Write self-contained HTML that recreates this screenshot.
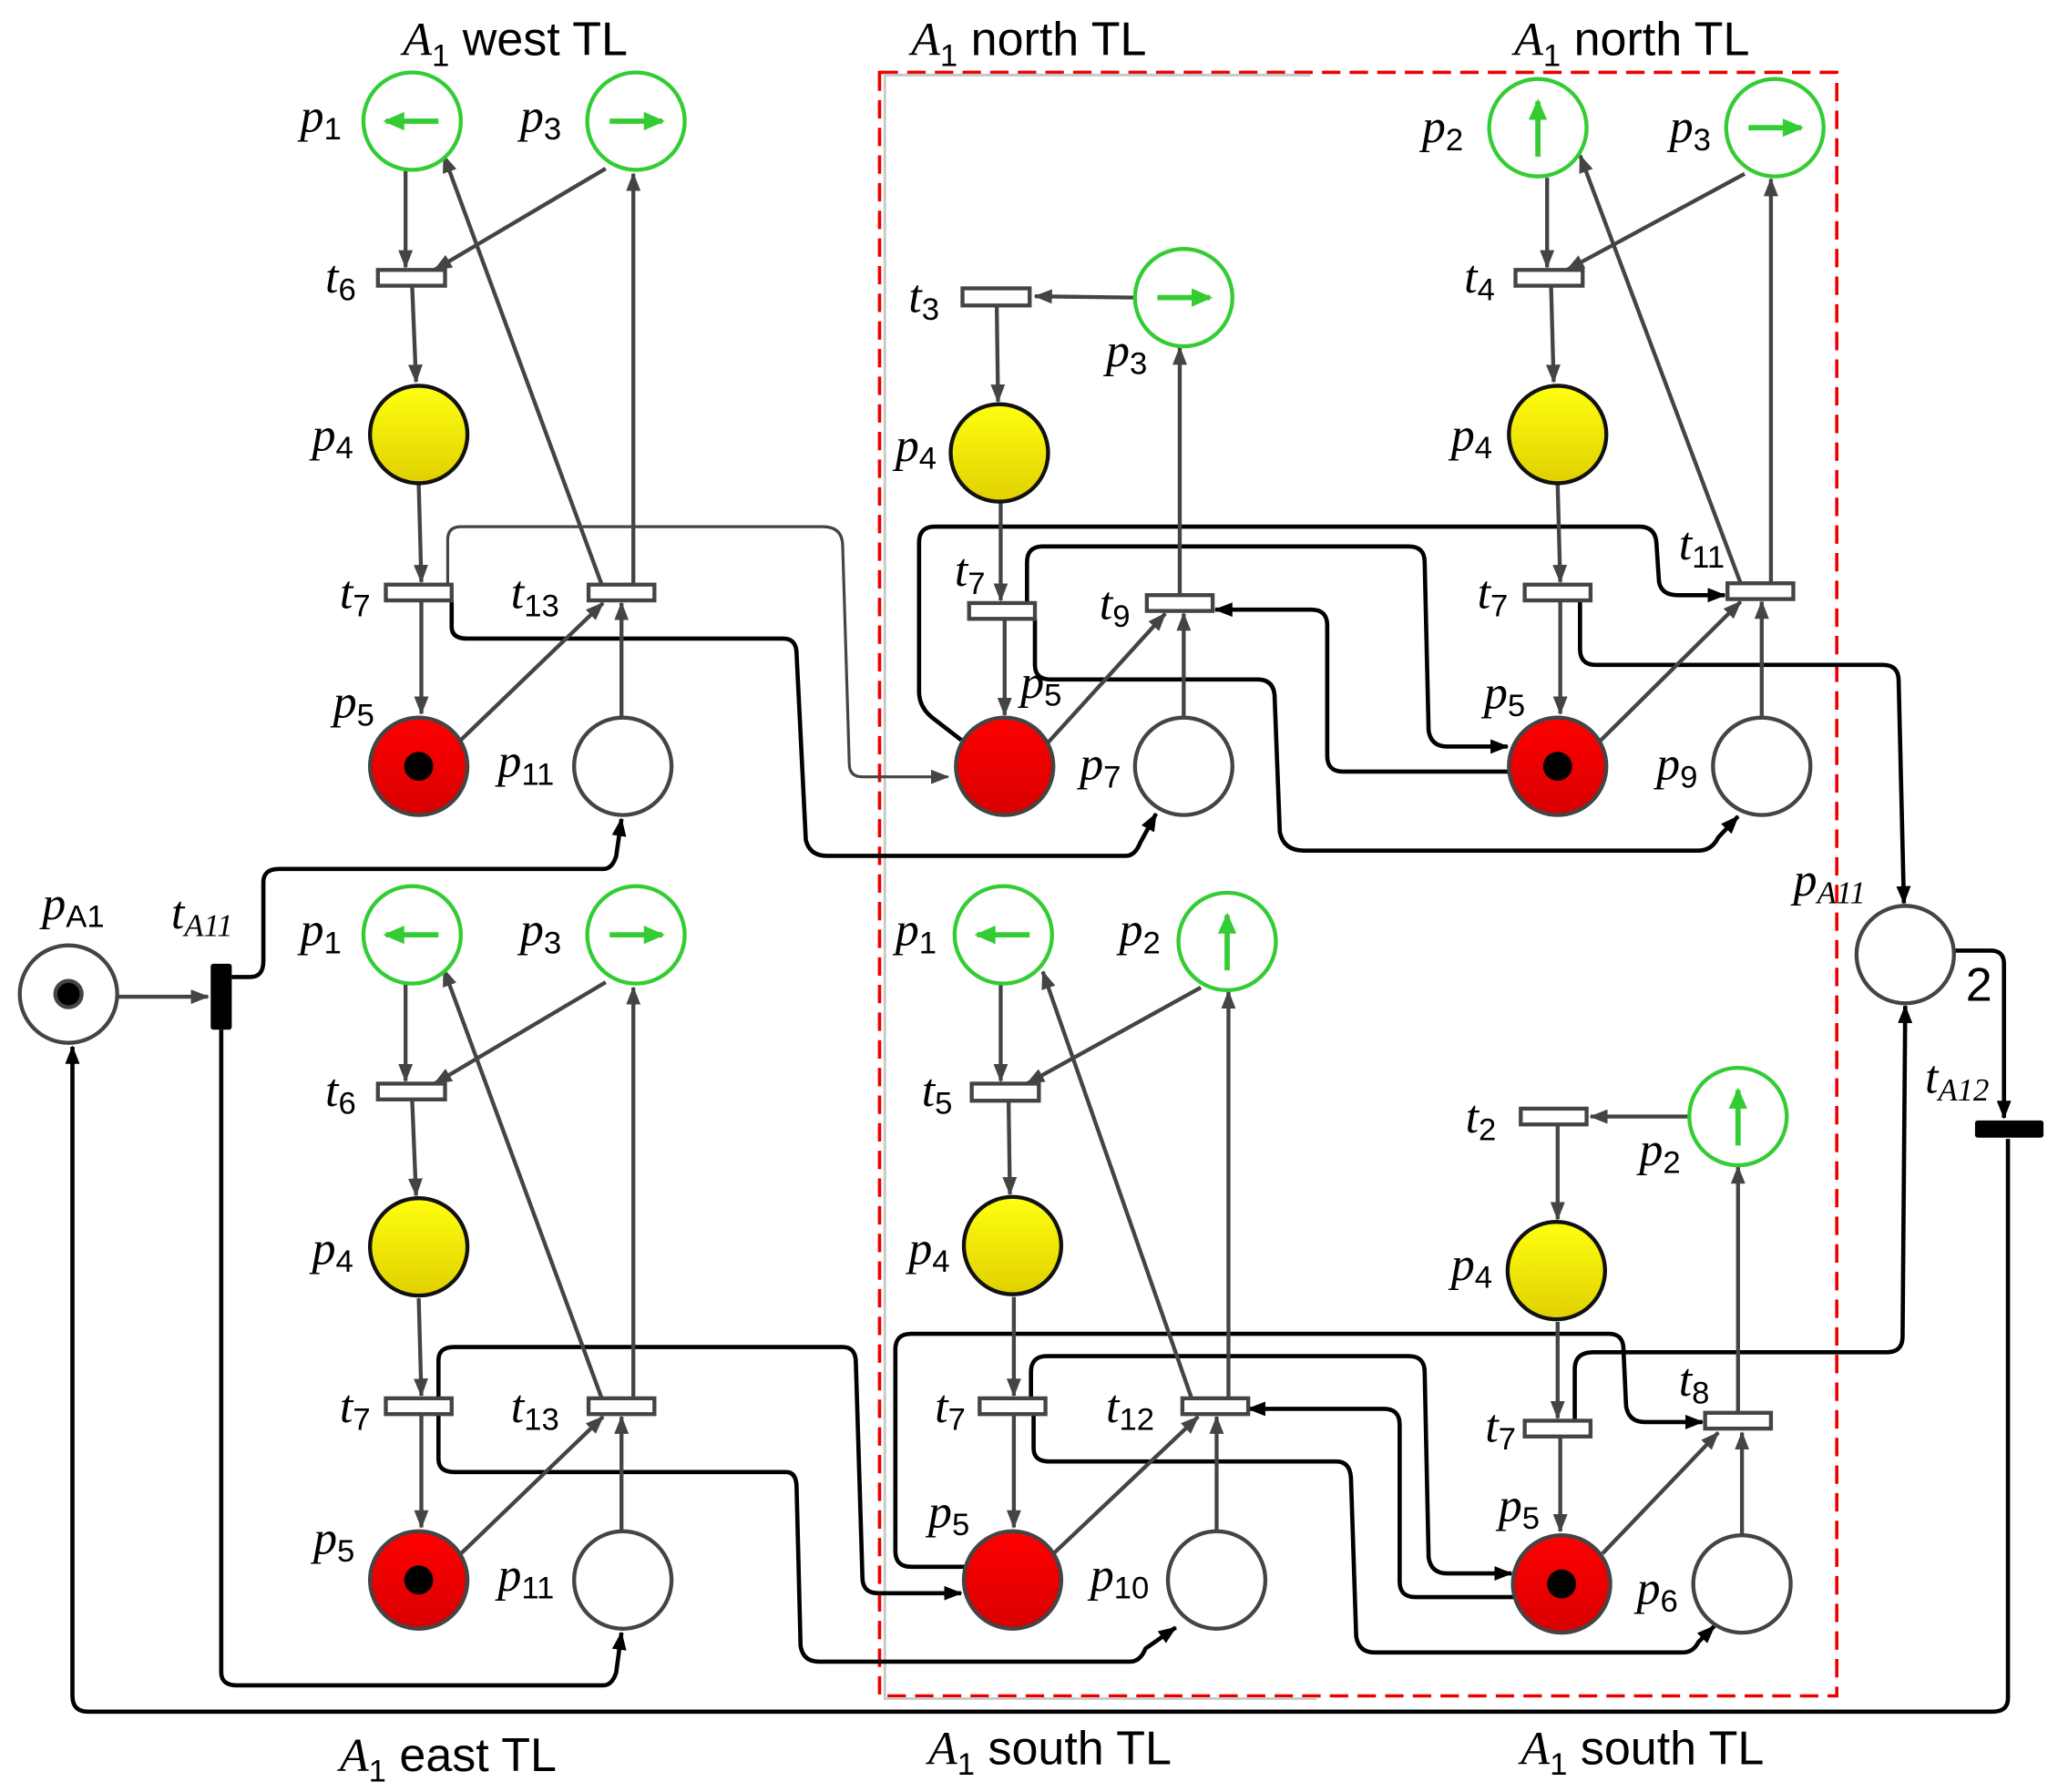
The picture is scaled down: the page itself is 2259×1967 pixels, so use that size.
<!DOCTYPE html>
<html><head><meta charset="utf-8"><style>
html,body{margin:0;padding:0;background:#fff}
svg{display:block}
.l{font-family:"Liberation Serif",serif;font-style:italic;font-size:36px;fill:#000}
.s{font-family:"Liberation Sans",sans-serif;font-style:normal;font-size:24px}
.si{font-family:"Liberation Serif",serif;font-style:italic;font-size:24px}
.h{font-family:"Liberation Sans",sans-serif;font-size:36px;fill:#000}
.a{stroke:#444;stroke-width:3;fill:none;marker-end:url(#ag)}
.b{stroke:#000;stroke-width:3.2;fill:none;marker-end:url(#ab);stroke-linejoin:round}
.gr{stroke:#444;stroke-width:2.2;fill:none;marker-end:url(#ag)}
.g{fill:#fff;stroke:#33cc33;stroke-width:3}
.y{fill:url(#yg);stroke:#111;stroke-width:3}
.r{fill:url(#rg);stroke:#444;stroke-width:3}
.w{fill:#fff;stroke:#444;stroke-width:3}
.t{fill:#fff;stroke:#444;stroke-width:3}
</style></head><body>
<svg width="2259" height="1967" viewBox="0 0 1563 1361" xmlns="http://www.w3.org/2000/svg">
<defs>
<marker id="ag" markerWidth="14" markerHeight="11" refX="13" refY="5.5" orient="auto" markerUnits="userSpaceOnUse" viewBox="0 0 14 11"><path d="M0,0L14,5.5L0,11z" fill="#444"/></marker>
<marker id="ab" markerWidth="14" markerHeight="11" refX="13" refY="5.5" orient="auto" markerUnits="userSpaceOnUse" viewBox="0 0 14 11"><path d="M0,0L14,5.5L0,11z" fill="#000"/></marker>
<linearGradient id="yg" x1="0" y1="0" x2="0" y2="1"><stop offset="0" stop-color="#ffff10"/><stop offset="1" stop-color="#e0d000"/></linearGradient>
<linearGradient id="rg" x1="0" y1="0" x2="0" y2="1"><stop offset="0" stop-color="#ff0000"/><stop offset="1" stop-color="#d80000"/></linearGradient>
<g id="gl"><path d="M-20,0L20,0" stroke="#33cc33" stroke-width="4"/><path d="M-22,0L-6,-7L-6,7z" fill="#33cc33"/></g>
<g id="grr"><path d="M-20,0L20,0" stroke="#33cc33" stroke-width="4"/><path d="M22,0L6,-7L6,7z" fill="#33cc33"/></g>
<g id="gu"><path d="M0,-20L0,22" stroke="#33cc33" stroke-width="4"/><path d="M0,-22L-7,-6L7,-6z" fill="#33cc33"/></g>
</defs>

<rect x="668" y="55" width="727" height="1233" fill="none" stroke="#e00" stroke-width="2.5" stroke-dasharray="14,7"/>
<path d="M995,57L672,57L672,1290L1000,1290" fill="none" stroke="#c8c8c8" stroke-width="2"/>

<text class="h" x="306" y="42"><tspan font-style="italic" font-family="Liberation Serif">A</tspan><tspan class="s" dy="8">1</tspan><tspan dy="-8"> west TL</tspan></text>
<text class="h" x="692" y="42"><tspan font-style="italic" font-family="Liberation Serif">A</tspan><tspan class="s" dy="8">1</tspan><tspan dy="-8"> north TL</tspan></text>
<text class="h" x="1150" y="42"><tspan font-style="italic" font-family="Liberation Serif">A</tspan><tspan class="s" dy="8">1</tspan><tspan dy="-8"> north TL</tspan></text>
<text class="h" x="258" y="1345"><tspan font-style="italic" font-family="Liberation Serif">A</tspan><tspan class="s" dy="8">1</tspan><tspan dy="-8"> east TL</tspan></text>
<text class="h" x="705" y="1340"><tspan font-style="italic" font-family="Liberation Serif">A</tspan><tspan class="s" dy="8">1</tspan><tspan dy="-8"> south TL</tspan></text>
<text class="h" x="1155" y="1340"><tspan font-style="italic" font-family="Liberation Serif">A</tspan><tspan class="s" dy="8">1</tspan><tspan dy="-8"> south TL</tspan></text>

<path class="gr" d="M340,450L340,410Q340,400 350,400L625,400Q640,400 640,415L645,580Q645,590 655,590L720,590"/>
<path class="b" d="M343,456L343,476Q343,485 355,485L595,485Q605,485 605,497L612,638Q615,650 628,650L855,650Q862,650 866,640L878,618"/>
<path class="b" d="M176,742L190,742Q200,742 200,730L200,670Q200,660 212,660L458,660Q465,660 468,650L472,622"/>
<path class="b" d="M168,782L168,1270Q168,1280 180,1280L458,1280Q465,1280 468,1270L472,1240"/>
<path class="b" d="M1525,865L1525,1290Q1525,1300 1513,1300L67,1300Q55,1300 55,1288L55,795"/>
<path class="b" d="M333,1068L333,1033Q333,1023 345,1023L640,1023Q650,1023 650,1035L655,1198Q655,1210 667,1210L730,1210"/>
<path class="b" d="M333,1075L333,1108Q333,1118 345,1118L597,1118Q605,1118 605,1130L608,1250Q610,1262 622,1262L858,1262Q866,1262 870,1252L893,1236"/>
<path class="b" d="M730,562L708,545Q698,537 698,525L698,412Q698,400 710,400L1245,400Q1257,400 1258,412L1260,442Q1262,452 1274,452L1310,452"/>
<path class="b" d="M780,458L780,427Q780,415 792,415L1070,415Q1082,415 1082,427L1085,555Q1087,567 1099,567L1145,567"/>
<path class="b" d="M1146,586L1020,586Q1008,586 1008,574L1008,475Q1008,463 996,463L923,463"/>
<path class="b" d="M786,470L786,505Q786,516 798,516L955,516Q967,516 968,528L972,632Q975,646 990,646L1290,646Q1300,646 1305,636L1320,620"/>
<path class="b" d="M1200,456L1200,493Q1200,505 1212,505L1430,505Q1442,505 1442,517L1446,686"/>
<path class="b" d="M1196,1082L1196,1040Q1196,1027 1210,1027L1433,1027Q1445,1027 1445,1015L1447,764"/>
<path class="b" d="M1485,722L1512,722Q1522,722 1522,732L1522,849"/>
<path class="b" d="M735,1190L692,1190Q680,1190 680,1178L680,1025Q680,1013 692,1013L1222,1013Q1233,1013 1233,1025L1235,1068Q1237,1080 1249,1080L1293,1080"/>
<path class="b" d="M783,1062L783,1042Q783,1030 795,1030L1070,1030Q1082,1030 1082,1042L1085,1183Q1087,1195 1099,1195L1148,1195"/>
<path class="b" d="M1150,1213L1075,1213Q1063,1213 1063,1201L1063,1082Q1063,1070 1051,1070L948,1070"/>
<path class="b" d="M785,1074L785,1100Q785,1110 797,1110L1015,1110Q1025,1110 1026,1122L1030,1243Q1032,1255 1044,1255L1278,1255Q1286,1255 1290,1247L1302,1235"/>

<path class="a" d="M308,130L308,203"/><path class="a" d="M460,128L330,205"/><path class="a" d="M313,217L316,290"/>
<path class="a" d="M318,368L320,442"/><path class="a" d="M320,456L320,542"/><path class="a" d="M350,562L458,458"/>
<path class="a" d="M472,545L472,458"/><path class="a" d="M481,444L481,132"/><path class="a" d="M457,444L337,118"/>
<path class="a" d="M308,748L308,821"/><path class="a" d="M460,746L330,823"/><path class="a" d="M313,835L316,908"/>
<path class="a" d="M318,986L320,1060"/><path class="a" d="M320,1074L320,1160"/><path class="a" d="M350,1180L458,1076"/>
<path class="a" d="M472,1163L472,1076"/><path class="a" d="M481,1062L481,750"/><path class="a" d="M457,1062L337,736"/>
<path class="a" d="M861,226L786,225"/><path class="a" d="M757,232L758,305"/><path class="a" d="M760,382L760,456"/>
<path class="a" d="M763,470L763,543"/><path class="a" d="M795,565L885,466"/><path class="a" d="M899,544L899,466"/><path class="a" d="M896,452L896,264"/>
<path class="a" d="M760,748L760,821"/><path class="a" d="M912,750L780,823"/><path class="a" d="M766,836L767,907"/>
<path class="a" d="M770,985L770,1060"/><path class="a" d="M770,1074L770,1160"/><path class="a" d="M800,1180L910,1076"/>
<path class="a" d="M924,1162L924,1076"/><path class="a" d="M933,1062L933,753"/><path class="a" d="M905,1062L792,738"/>
<path class="a" d="M1175,135L1175,203"/><path class="a" d="M1325,132L1190,205"/><path class="a" d="M1178,217L1180,290"/>
<path class="a" d="M1183,368L1185,442"/><path class="a" d="M1185,456L1185,542"/><path class="a" d="M1215,563L1322,457"/>
<path class="a" d="M1338,545L1338,457"/><path class="a" d="M1345,443L1345,136"/><path class="a" d="M1322,443L1200,118"/>
<path class="a" d="M1282,848L1208,848"/><path class="a" d="M1183,854L1183,926"/><path class="a" d="M1183,1004L1183,1077"/>
<path class="a" d="M1185,1091L1185,1163"/><path class="a" d="M1217,1180L1305,1088"/><path class="a" d="M1323,1165L1323,1088"/><path class="a" d="M1320,1073L1320,886"/>
<path class="a" d="M90,757L158,757"/>

<rect class="t" x="287" y="205" width="51" height="12"/><rect class="t" x="293" y="444" width="50" height="12"/><rect class="t" x="447" y="444" width="50" height="12"/>
<rect class="t" x="287" y="823" width="51" height="12"/><rect class="t" x="293" y="1062" width="50" height="12"/><rect class="t" x="447" y="1062" width="50" height="12"/>
<rect class="t" x="731" y="219" width="51" height="13"/><rect class="t" x="736" y="458" width="50" height="12"/><rect class="t" x="871" y="452" width="50" height="12"/>
<rect class="t" x="738" y="823" width="51" height="13"/><rect class="t" x="744" y="1062" width="50" height="12"/><rect class="t" x="898" y="1062" width="50" height="12"/>
<rect class="t" x="1151" y="205" width="51" height="12"/><rect class="t" x="1158" y="444" width="50" height="12"/><rect class="t" x="1312" y="443" width="50" height="12"/>
<rect class="t" x="1155" y="842" width="50" height="12"/><rect class="t" x="1158" y="1079" width="50" height="12"/><rect class="t" x="1295" y="1073" width="50" height="12"/>
<rect x="160" y="732" width="16" height="50" fill="#000" rx="2"/>
<rect x="1500" y="851" width="52" height="13" fill="#000" rx="2"/>

<circle class="g" cx="313" cy="92" r="37"/><use href="#gl" x="313" y="92"/>
<circle class="g" cx="483" cy="92" r="37"/><use href="#grr" x="483" y="92"/>
<circle class="y" cx="318" cy="330" r="37"/>
<circle class="r" cx="318" cy="582" r="37"/><circle cx="318" cy="582" r="11" fill="#000"/>
<circle class="w" cx="473" cy="582" r="37"/>
<circle class="g" cx="313" cy="710" r="37"/><use href="#gl" x="313" y="710"/>
<circle class="g" cx="483" cy="710" r="37"/><use href="#grr" x="483" y="710"/>
<circle class="y" cx="318" cy="947" r="37"/>
<circle class="r" cx="318" cy="1200" r="37"/><circle cx="318" cy="1200" r="11" fill="#000"/>
<circle class="w" cx="473" cy="1200" r="37"/>
<circle class="g" cx="899" cy="226" r="37"/><use href="#grr" x="899" y="226"/>
<circle class="y" cx="759" cy="344" r="37"/>
<circle class="r" cx="763" cy="582" r="37"/>
<circle class="w" cx="899" cy="582" r="37"/>
<circle class="g" cx="762" cy="710" r="37"/><use href="#gl" x="762" y="710"/>
<circle class="g" cx="932" cy="715" r="37"/><use href="#gu" x="932" y="715"/>
<circle class="y" cx="769" cy="946" r="37"/>
<circle class="r" cx="769" cy="1200" r="37"/>
<circle class="w" cx="924" cy="1200" r="37"/>
<circle class="g" cx="1168" cy="97" r="37"/><use href="#gu" x="1168" y="97"/>
<circle class="g" cx="1348" cy="97" r="37"/><use href="#grr" x="1348" y="97"/>
<circle class="y" cx="1183" cy="330" r="37"/>
<circle class="r" cx="1183" cy="582" r="37"/><circle cx="1183" cy="582" r="11" fill="#000"/>
<circle class="w" cx="1338" cy="582" r="37"/>
<circle class="g" cx="1320" cy="848" r="37"/><use href="#gu" x="1320" y="848"/>
<circle class="y" cx="1182" cy="965" r="37"/>
<circle class="r" cx="1186" cy="1203" r="37"/><circle cx="1186" cy="1203" r="11" fill="#000"/>
<circle class="w" cx="1323" cy="1203" r="37"/>
<circle class="w" cx="52" cy="755" r="37"/><circle cx="52" cy="755" r="10" fill="#000" stroke="#444" stroke-width="3"/>
<circle class="w" cx="1447" cy="725" r="37"/>
<text class="h" x="1493" y="760">2</text>

<g class="l">
<text x="228" y="100">p<tspan class="s" dy="6">1</tspan></text>
<text x="395" y="100">p<tspan class="s" dy="6">3</tspan></text>
<text x="247" y="222">t<tspan class="s" dy="6">6</tspan></text>
<text x="237" y="342">p<tspan class="s" dy="6">4</tspan></text>
<text x="258" y="462">t<tspan class="s" dy="6">7</tspan></text>
<text x="388" y="462">t<tspan class="s" dy="6">13</tspan></text>
<text x="253" y="545">p<tspan class="s" dy="6">5</tspan></text>
<text x="378" y="590">p<tspan class="s" dy="6">11</tspan></text>
<text x="228" y="718">p<tspan class="s" dy="6">1</tspan></text>
<text x="395" y="718">p<tspan class="s" dy="6">3</tspan></text>
<text x="247" y="840">t<tspan class="s" dy="6">6</tspan></text>
<text x="237" y="960">p<tspan class="s" dy="6">4</tspan></text>
<text x="258" y="1080">t<tspan class="s" dy="6">7</tspan></text>
<text x="388" y="1080">t<tspan class="s" dy="6">13</tspan></text>
<text x="238" y="1180">p<tspan class="s" dy="6">5</tspan></text>
<text x="378" y="1208">p<tspan class="s" dy="6">11</tspan></text>
<text x="690" y="237">t<tspan class="s" dy="6">3</tspan></text>
<text x="840" y="278">p<tspan class="s" dy="6">3</tspan></text>
<text x="680" y="350">p<tspan class="s" dy="6">4</tspan></text>
<text x="725" y="445">t<tspan class="s" dy="6">7</tspan></text>
<text x="835" y="470">t<tspan class="s" dy="6">9</tspan></text>
<text x="775" y="530">p<tspan class="s" dy="6">5</tspan></text>
<text x="820" y="592">p<tspan class="s" dy="6">7</tspan></text>
<text x="680" y="718">p<tspan class="s" dy="6">1</tspan></text>
<text x="850" y="718">p<tspan class="s" dy="6">2</tspan></text>
<text x="700" y="840">t<tspan class="s" dy="6">5</tspan></text>
<text x="690" y="960">p<tspan class="s" dy="6">4</tspan></text>
<text x="710" y="1080">t<tspan class="s" dy="6">7</tspan></text>
<text x="840" y="1080">t<tspan class="s" dy="6">12</tspan></text>
<text x="705" y="1160">p<tspan class="s" dy="6">5</tspan></text>
<text x="828" y="1208">p<tspan class="s" dy="6">10</tspan></text>
<text x="1080" y="108">p<tspan class="s" dy="6">2</tspan></text>
<text x="1268" y="108">p<tspan class="s" dy="6">3</tspan></text>
<text x="1112" y="222">t<tspan class="s" dy="6">4</tspan></text>
<text x="1102" y="342">p<tspan class="s" dy="6">4</tspan></text>
<text x="1122" y="462">t<tspan class="s" dy="6">7</tspan></text>
<text x="1275" y="425">t<tspan class="s" dy="6">11</tspan></text>
<text x="1127" y="538">p<tspan class="s" dy="6">5</tspan></text>
<text x="1258" y="592">p<tspan class="s" dy="6">9</tspan></text>
<text x="1113" y="860">t<tspan class="s" dy="6">2</tspan></text>
<text x="1245" y="885">p<tspan class="s" dy="6">2</tspan></text>
<text x="1102" y="972">p<tspan class="s" dy="6">4</tspan></text>
<text x="1128" y="1095">t<tspan class="s" dy="6">7</tspan></text>
<text x="1275" y="1060">t<tspan class="s" dy="6">8</tspan></text>
<text x="1138" y="1155">p<tspan class="s" dy="6">5</tspan></text>
<text x="1243" y="1218">p<tspan class="s" dy="6">6</tspan></text>
<text x="32" y="698">p<tspan class="s" dy="6">A1</tspan></text>
<text x="130" y="705">t<tspan class="si" dy="6">A11</tspan></text>
<text x="1362" y="680">p<tspan class="si" dy="6">A11</tspan></text>
<text x="1462" y="830">t<tspan class="si" dy="6">A12</tspan></text>
</g>
</svg>
</body></html>
